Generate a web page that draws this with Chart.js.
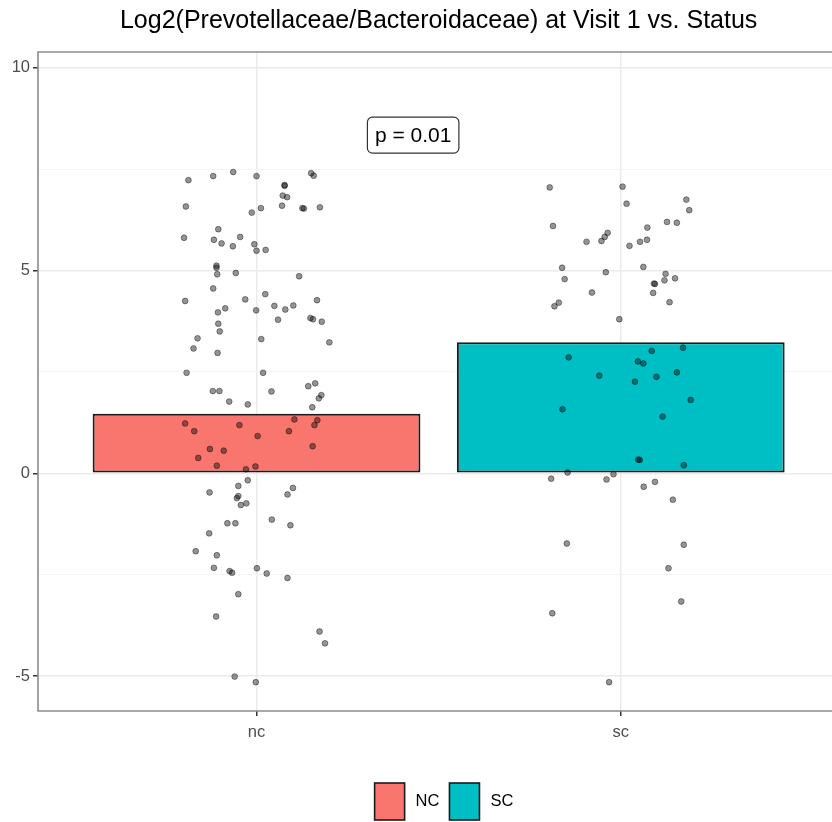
<!DOCTYPE html>
<html>
<head>
<meta charset="utf-8">
<script src="https://cdn.jsdelivr.net/npm/chart.js@4.4.1/dist/chart.umd.min.js"></script>
<style>
  html, body { margin: 0; padding: 0; background: #fff; }
</style>
</head>
<body>
<canvas id="chart" width="832" height="822"></canvas>
<script>
// Log2(Prevotellaceae/Bacteroidaceae) at visit 1, bar per status + jittered subjects

const FONT = '"Liberation Sans", Arial, Helvetica, sans-serif';

const categories = ['nc', 'sc'];
const groupNames = ['NC', 'SC'];
const groupColors = ['#F8766D', '#00BFC4'];
const barHeights = [1.47, 3.23];

const yTicks = [-5, -2.5, 0, 2.5, 5, 7.5, 10];

const titleText = 'Log2(Prevotellaceae/Bacteroidaceae) at Visit 1 vs. Status';
const pText = 'p = 0.01';
const pAt = [1.43, 8.34];

// jittered subjects (x = jittered category position)
const ncX = [
  0.813, 0.881, 0.936, 1.000, 1.077, 1.077, 1.072, 1.084, 1.150, 1.157,
  0.806, 0.987, 1.012, 1.070, 1.126, 1.130, 1.174, 0.895, 0.801, 0.883,
  0.904, 0.955, 0.935, 0.994, 1.000, 1.025, 0.890, 0.890, 0.892, 0.943,
  1.117, 0.881, 0.804, 0.969, 1.024, 1.049, 1.079, 1.101, 1.166, 0.894,
  0.914, 0.999, 1.059, 1.148, 1.155, 1.179, 0.895, 0.899, 0.838, 0.827,
  0.893, 1.013, 1.200, 0.808, 1.018, 0.880, 0.898, 0.925, 0.976, 1.041,
  1.142, 1.161, 1.178, 1.171, 1.153, 0.804, 0.829, 0.953, 1.003, 1.104,
  1.089, 1.167, 1.159, 1.154, 0.872, 0.910, 0.840, 0.891, 0.971, 0.997,
  0.976, 0.950, 0.871, 1.100, 1.085, 0.950, 0.946, 0.957, 0.972, 0.920,
  0.942, 1.042, 1.093, 0.870, 0.833, 0.891, 0.883, 0.926, 0.933, 1.001,
  1.028, 1.085, 0.950, 0.889, 1.173, 1.188, 0.940, 0.998,
];
const ncY = [
  7.23, 7.33, 7.43, 7.33, 7.11, 7.09, 6.85, 6.81, 7.40, 7.34,
  6.58, 6.43, 6.54, 6.60, 6.54, 6.53, 6.56, 6.02, 5.81, 5.76,
  5.67, 5.83, 5.60, 5.65, 5.49, 5.51, 5.12, 5.07, 4.91, 4.94,
  4.86, 4.56, 4.25, 4.29, 4.42, 4.13, 4.04, 4.14, 4.27, 3.97,
  4.07, 4.02, 3.79, 3.83, 3.80, 3.74, 3.69, 3.50, 3.33, 3.08,
  2.97, 3.31, 3.23, 2.48, 2.48, 2.03, 2.03, 1.77, 1.70, 2.02,
  2.15, 2.22, 1.93, 1.85, 1.63, 1.23, 1.04, 1.19, 0.92, 1.33,
  1.04, 1.31, 1.19, 0.67, 0.60, 0.56, 0.38, 0.19, 0.10, 0.17,
  -0.17, -0.31, -0.47, -0.36, -0.52, -0.56, -0.61, -0.78, -0.74, -1.23,
  -1.23, -1.14, -1.28, -1.48, -1.92, -2.02, -2.33, -2.41, -2.45, -2.34,
  -2.47, -2.58, -2.98, -3.53, -3.90, -4.19, -5.01, -5.15,
];
const scX = [
  1.805, 2.005, 2.016, 2.180, 2.188, 1.814, 2.127, 2.154, 2.073, 1.964,
  1.956, 1.947, 1.906, 2.053, 2.072, 2.024, 1.839, 1.846, 1.959, 2.062,
  2.123, 2.120, 2.149, 2.091, 2.094, 2.089, 1.921, 1.830, 1.818, 2.134,
  1.996, 1.857, 2.085, 2.171, 2.047, 2.062, 1.941, 2.039, 2.098, 2.154,
  2.192, 1.840, 2.115, 2.048, 2.052, 2.173, 1.854, 1.809, 1.961, 1.980,
  2.063, 2.094, 2.143, 1.852, 2.173, 2.131, 1.812, 2.166, 1.968,
];
const scY = [
  7.05, 7.07, 6.65, 6.75, 6.49, 6.10, 6.20, 6.18, 6.06, 5.93,
  5.83, 5.73, 5.71, 5.71, 5.76, 5.61, 5.07, 4.79, 4.96, 5.09,
  4.92, 4.76, 4.81, 4.68, 4.67, 4.45, 4.46, 4.21, 4.12, 4.22,
  3.80, 2.86, 3.02, 3.10, 2.76, 2.71, 2.41, 2.26, 2.38, 2.49,
  1.81, 1.58, 1.40, 0.34, 0.33, 0.20, 0.02, -0.13, -0.15, -0.02,
  -0.33, -0.21, -0.65, -1.73, -1.76, -2.34, -3.45, -3.16, -5.15,
];

const toPoints = (xs, ys) => xs.map((x, i) => ({ x, y: ys[i] }));

const pointSets = [[ncX, ncY], [scX, scY]].map(([xs, ys], i) => ({
  type: 'scatter',
  label: categories[i] + ' subjects',
  data: toPoints(xs, ys),
  order: 0,
  pointRadius: 2.9,
  pointBackgroundColor: 'rgba(0,0,0,0.42)',
  pointBorderColor: 'rgba(0,0,0,0.5)',
  pointBorderWidth: 0.8,
}));

const barSets = groupNames.map((name, i) => ({
  type: 'bar',
  label: name,
  data: [{ x: i + 1, y: barHeights[i] }],
  order: 1,
  backgroundColor: groupColors[i],
  borderColor: '#1a1a1a',
  borderWidth: 2,
  borderSkipped: false,
  grouped: false,
  categoryPercentage: 1,
  barPercentage: 0.9,
}));

// panel border (ggplot theme_bw), right side runs off the canvas
const frame = {
  id: 'frame',
  afterDatasetsDraw(chart) {
    const { ctx, chartArea: a } = chart;
    ctx.save();
    ctx.strokeStyle = '#8c8c8c';
    ctx.lineWidth = 1.6;
    ctx.beginPath();
    ctx.moveTo(a.right + 4, a.top);
    ctx.lineTo(a.left, a.top);
    ctx.lineTo(a.left, a.bottom);
    ctx.lineTo(a.right + 4, a.bottom);
    ctx.stroke();
    ctx.restore();
  },
};

const pLabel = {
  id: 'pLabel',
  afterDatasetsDraw(chart) {
    const { ctx, scales } = chart;
    const x = scales.x.getPixelForValue(pAt[0]);
    const y = scales.y.getPixelForValue(pAt[1]);
    ctx.save();
    ctx.font = '21px ' + FONT;
    const w = ctx.measureText(pText).width + 15;
    const h = 36;
    ctx.beginPath();
    ctx.roundRect(x - w / 2, y - h / 2, w, h, 5);
    ctx.fillStyle = '#fff';
    ctx.fill();
    ctx.strokeStyle = '#333';
    ctx.lineWidth = 1.2;
    ctx.stroke();
    ctx.fillStyle = '#000';
    ctx.textAlign = 'center';
    ctx.textBaseline = 'middle';
    ctx.fillText(pText, x, y + 1);
    ctx.restore();
  },
};

const titleAndKeys = {
  id: 'titleAndKeys',
  afterDraw(chart) {
    const { ctx, scales } = chart;
    ctx.save();
    // title centred on the panel (x range 0.4..2.6)
    ctx.font = '25px ' + FONT;
    ctx.fillStyle = '#000';
    ctx.textAlign = 'center';
    ctx.textBaseline = 'middle';
    ctx.fillText(titleText, scales.x.getPixelForValue(1.5), 21);

    // legend keys
    ctx.font = '16.5px ' + FONT;
    const keyW = 30, keyH = 37, gap = 11, sep = 10;
    const widths = groupNames.map((n) => keyW + gap + ctx.measureText(n).width);
    const total = widths.reduce((s, v) => s + v, 0) + sep * (groupNames.length - 1);
    let x = 444 - total / 2;
    const yTop = 783;
    groupNames.forEach((n, i) => {
      ctx.fillStyle = groupColors[i];
      ctx.fillRect(x, yTop, keyW, keyH);
      ctx.strokeStyle = '#1a1a1a';
      ctx.lineWidth = 1.6;
      ctx.strokeRect(x, yTop, keyW, keyH);
      ctx.fillStyle = '#000';
      ctx.textAlign = 'left';
      ctx.fillText(n, x + keyW + gap, yTop + keyH / 2);
      x += widths[i] + sep;
    });
    ctx.restore();
  },
};

const isMajor = (v) => v % 5 === 0;

new Chart(document.getElementById('chart'), {
  type: 'bar',
  data: { datasets: [...pointSets, ...barSets] },
  options: {
    responsive: false,
    animation: false,
    layout: { autoPadding: false, padding: { top: 52, right: 0, bottom: 0, left: 0 } },
    plugins: {
      legend: { display: false },
      title: { display: false },
      tooltip: { enabled: false },
    },
    scales: {
      x: {
        type: 'linear',
        min: 0.4,
        max: 2.58,
        offset: false,
        afterBuildTicks: (s) => { s.ticks = categories.map((c, i) => ({ value: i + 1 })); },
        afterFit: (s) => { s.height = 111; s.paddingLeft = 0; s.paddingRight = 0; },
        border: { display: false },
        grid: { offset: false, color: '#ebebeb', lineWidth: 1.5, tickColor: '#333', tickLength: 5 },
        ticks: {
          color: '#4d4d4d',
          font: { family: FONT, size: 16.5 },
          padding: 7,
          callback: (v, i) => categories[i],
        },
      },
      y: {
        type: 'linear',
        min: -5.86,
        max: 10.39,
        afterBuildTicks: (s) => { s.ticks = yTicks.map((v) => ({ value: v })); },
        afterFit: (s) => { s.width = 38; s.paddingTop = 0; s.paddingBottom = 0; },
        border: { display: false },
        grid: {
          color: (c) => (isMajor(c.tick.value) ? '#ebebeb' : '#f3f3f3'),
          lineWidth: (c) => (isMajor(c.tick.value) ? 1.5 : 0.9),
          tickColor: (c) => (isMajor(c.tick.value) ? '#333' : 'rgba(0,0,0,0)'),
          tickLength: 5,
        },
        ticks: {
          color: '#4d4d4d',
          font: { family: FONT, size: 16.5 },
          padding: 3,
          callback: (v) => (isMajor(v) ? String(v) : ''),
        },
      },
    },
  },
  plugins: [frame, pLabel, titleAndKeys],
});
</script>
</body>
</html>
